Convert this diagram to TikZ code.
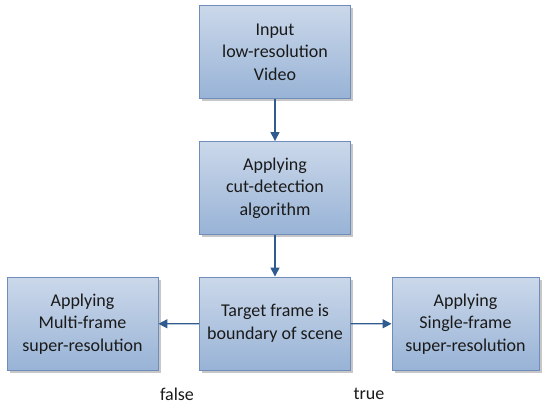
\documentclass[tikz,border=0pt]{standalone}
\usepackage{fontspec}
\setmainfont{Carlito}
\usetikzlibrary{arrows.meta,shadows}
\definecolor{boxtop}{HTML}{CBD8EA}
\definecolor{boxbot}{HTML}{98B3D6}
\definecolor{boxline}{HTML}{6F8DB8}
\definecolor{arrowc}{HTML}{2F5B8F}
\definecolor{txt}{HTML}{1A1A1A}
\tikzset{
  procbox/.style={draw=boxline, line width=0.9pt, top color=boxtop, bottom color=boxbot,
    minimum width=151pt, minimum height=93pt, align=center, text=txt,
    font=\fontsize{18}{22.5}\selectfont, inner sep=0pt,
    drop shadow={shadow xshift=2.5pt, shadow yshift=-2.5pt, fill=black, opacity=0.22}},
  flow/.style={draw=arrowc, line width=1.4pt, -{Triangle[length=9pt,width=9pt]}},
  lbl/.style={font=\fontsize{18}{22}\selectfont, text=txt}
}
\begin{document}
\begin{tikzpicture}[x=1pt,y=-1pt]
  \useasboundingbox (0,0) rectangle (542,407);
  \node[procbox] (input)  at (275,52)  {Input\\low-resolution\\Video};
  \node[procbox] (cut)    at (275,188) {Applying\\cut-detection\\algorithm};
  \node[procbox] (target) at (275,323.5) {Target frame is\\boundary of scene};
  \node[procbox] (multi)  at (82.5,324) {Applying\\Multi-frame\\super-resolution};
  \node[procbox, minimum width=147pt] (single) at (465.5,324) {Applying\\Single-frame\\super-resolution};
  \draw[flow] (input) -- (cut);
  \draw[flow] (cut) -- (target);
  \draw[flow] (target) -- (multi);
  \draw[flow] (target) -- (single);
  \node[lbl] (false) at (177,394) {false};
  \node[lbl] (true)  at (369,394) {true};
\end{tikzpicture}
\end{document}
